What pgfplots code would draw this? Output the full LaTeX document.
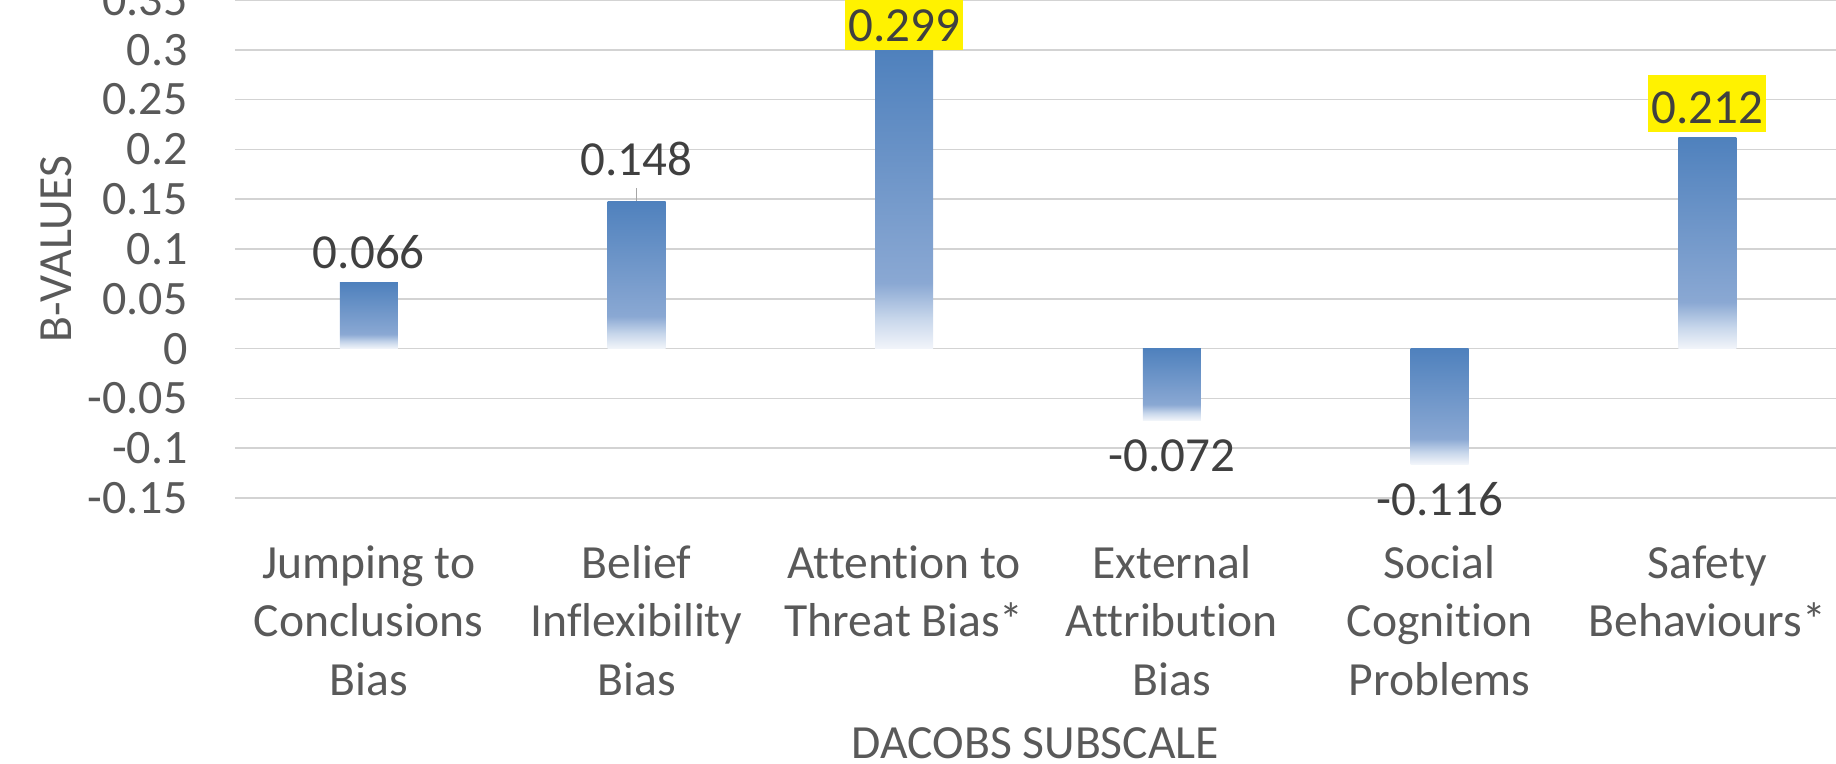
\documentclass[border=0pt]{standalone}
\usepackage{pgfplots}
\pgfplotsset{compat=1.18}
\usepackage{fontspec}
\setmainfont{Carlito}[Ligatures=NoCommon]

\definecolor{txt}{HTML}{595959}
\definecolor{lbl}{HTML}{404040}
\definecolor{gridc}{HTML}{D3D3D3}
\definecolor{bartop}{HTML}{4F81BD}
\definecolor{barmid}{HTML}{8AA8D3}
\definecolor{barlow}{HTML}{C8D7EB}
\definecolor{barend}{HTML}{F2F5FA}
% dark at the top, fading out over the lowest fifth of each bar
\pgfdeclareverticalshading{barfade}{100bp}{color(0bp)=(barend); color(25bp)=(barend); color(30bp)=(barlow); color(36bp)=(barmid); color(75bp)=(bartop); color(100bp)=(bartop)}

\tikzset{labfont/.style={font=\fontsize{24.5}{28}\selectfont, text=lbl}}
\pgfplotsset{
    onebar/.style={ybar, bar width=29pt, draw=none, shade, shading=barfade},
    lab/.style={draw=none, mark=none, nodes near coords, point meta=explicit symbolic},
}

\begin{document}
\begin{tikzpicture}
\begin{axis}[
    name=ax,
    width=800.5pt, height=249pt, scale only axis,
    xmin=-0.5, xmax=5.481,
    ymin=-0.15, ymax=0.35,
    clip=false,
    axis line style={draw=none},
    tick style={draw=none},
    ymajorgrids=true,
    grid style={gridc, line width=0.75pt},
    ytick={-0.15,-0.1,-0.05,0,0.05,0.1,0.15,0.2,0.25,0.3,0.35},
    yticklabels={-0.15,-0.1,-0.05,0,0.05,0.1,0.15,0.2,0.25,0.3,0.35},
    yticklabel style={anchor=east, inner sep=0pt, xshift=-23.5pt,
        font=\fontsize{24}{28}\selectfont, text=txt},
    xtick={0,1,2,3,4,5},
    xticklabels={{Jumping to\\Conclusions\\Bias},
                 {Belief\\Inflexibility\\Bias},
                 {Attention to\\Threat Bias*},
                 {External\\Attribution\\Bias},
                 {Social\\Cognition\\Problems},
                 {Safety\\Behaviours*}},
    xticklabel style={anchor=north, align=center, inner sep=0pt, yshift=-23.5pt,
        font=\fontsize{23.8}{29.25}\selectfont, text=txt},
    xlabel={DACOBS SUBSCALE},
    ylabel={B-VALUES},
    every axis x label/.style={at={([yshift=-122.5pt]axis description cs:0.5,0)},
        anchor=center, font=\fontsize{23.8}{28}\selectfont, text=txt},
    every axis y label/.style={at={([xshift=-89.5pt]axis description cs:0,0.5)},
        rotate=90, anchor=center, font=\fontsize{23.8}{28}\selectfont, text=txt},
]

% one plot per bar, so that each bar gets its own gradient
\addplot[onebar] coordinates {(0,0.066)};
\addplot[onebar] coordinates {(1,0.148)};
\addplot[onebar] coordinates {(2,0.299)};
\addplot[onebar] coordinates {(3,-0.072)};
\addplot[onebar] coordinates {(4,-0.116)};
\addplot[onebar] coordinates {(5,0.212)};

% plain labels above / below the bars
\addplot[lab, every node near coord/.append style={anchor=center, yshift=15.5pt, labfont}]
    coordinates {(0,0.066) [0.066]};
\addplot[lab, every node near coord/.append style={anchor=center, yshift=21pt, labfont}]
    coordinates {(1,0.148) [0.148]};
\addplot[lab, every node near coord/.append style={anchor=center, yshift=-17.6pt, labfont}]
    coordinates {(3,-0.072) [-0.072] (4,-0.116) [-0.116]};

% highlighted labels
\addplot[lab, every node near coord/.append style={anchor=south, yshift=0pt, fill=yellow,
        inner xsep=1.5pt, inner ysep=0pt, text height=24pt, text depth=4.5pt, labfont}]
    coordinates {(2,0.299) [0.299]};
\addplot[lab, every node near coord/.append style={anchor=south, yshift=2.5pt, fill=yellow,
        inner xsep=1.5pt, inner ysep=0pt, text height=24pt, text depth=4.5pt, labfont}]
    coordinates {(5,0.212) [0.212]};

% leader line of the moved label
\draw[black!35, line width=0.6pt] (axis cs:1,0.148) -- ([yshift=6.5pt]axis cs:1,0.148);
\end{axis}
\pgfresetboundingbox
\path[use as bounding box] ([xshift=-117.5pt,yshift=-133pt]ax.south west) rectangle (ax.north east);
\end{tikzpicture}
\end{document}
